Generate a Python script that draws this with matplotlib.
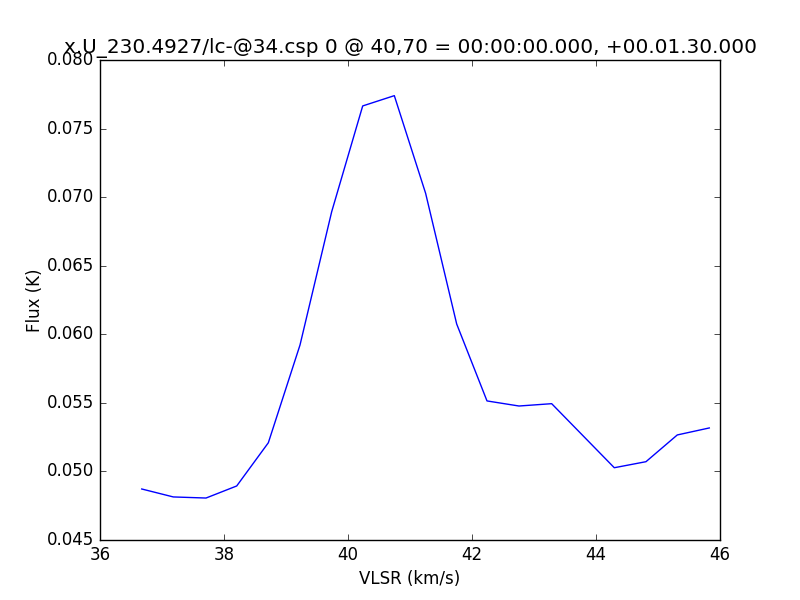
import matplotlib
matplotlib.use('Agg')
import matplotlib.pyplot as plt

plt.style.use('classic')

# velocidade (km/s) e fluxo (K)
vlsr = [36.673, 37.182, 37.710, 38.205, 38.715, 39.226, 39.737, 40.237, 40.747,
        41.252, 41.753, 42.242, 42.758, 43.285, 44.295, 44.806, 45.311, 45.827]
fluxo = [0.04872, 0.04814, 0.04806, 0.04894, 0.05209, 0.05922, 0.06894, 0.07665, 0.07740,
         0.07028, 0.06075, 0.05514, 0.05477, 0.05494, 0.05027, 0.05071, 0.05266, 0.05317]

fig = plt.figure(figsize=(8, 6), dpi=100, facecolor='white')
ax = fig.add_subplot(111)
ax.plot(vlsr, fluxo, color='blue', linewidth=1.0)

ax.set_xlim(36, 46)
ax.set_ylim(0.045, 0.080)
ax.set_xlabel('VLSR (km/s)')
ax.set_ylabel('Flux (K)', labelpad=2)
ax.set_title('x.U_230.4927/lc-@34.csp 0 @ 40,70 = 00:00:00.000, +00.01.30.000')
ax.yaxis.set_major_formatter(matplotlib.ticker.FormatStrFormatter('%.3f'))

fig.savefig('out.png', dpi=100, facecolor='white')
